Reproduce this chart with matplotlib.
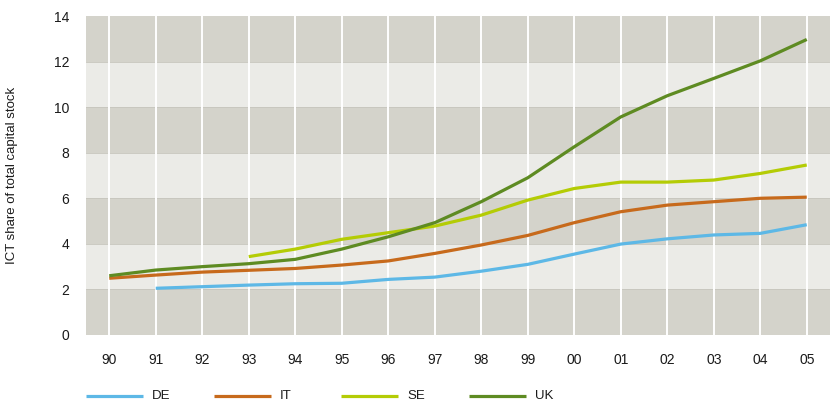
import matplotlib
matplotlib.use("Agg")
import matplotlib.pyplot as plt
from matplotlib.lines import Line2D

plt.rcParams['font.family'] = ['Liberation Sans', 'DejaVu Sans']

years = ["90", "91", "92", "93", "94", "95", "96", "97", "98", "99",
         "00", "01", "02", "03", "04", "05"]
de = [None, 2.05, 2.12, 2.19, 2.25, 2.27, 2.44, 2.54, 2.8, 3.1,
      3.55, 3.99, 4.22, 4.39, 4.46, 4.84]
it = [2.49, 2.63, 2.76, 2.84, 2.92, 3.07, 3.25, 3.58, 3.95, 4.37,
      4.93, 5.41, 5.7, 5.85, 6.0, 6.05]
se = [None, None, None, 3.44, 3.77, 4.2, 4.49, 4.78, 5.26, 5.92,
      6.43, 6.71, 6.71, 6.8, 7.09, 7.46]
uk = [2.6, 2.85, 3.0, 3.13, 3.32, 3.77, 4.31, 4.93, 5.85, 6.9,
      8.26, 9.57, 10.5, 11.26, 12.03, 12.97]
series_names = ["DE", "IT", "SE", "UK"]
series_vals = [de, it, se, uk]
colors = ["#5db8e6", "#c76a1c", "#b4cc05", "#5e8b22"]
yticks = [0, 2, 4, 6, 8, 10, 12, 14]
ylabel = "ICT share of total capital stock"

fig = plt.figure(figsize=(8.30, 4.03), dpi=100)
W, H = 830, 403
left, right, top, bottom = 86, 830, 16, 335
ax = fig.add_axes([left / W, 1 - bottom / H, (right - left) / W, (bottom - top) / H])

x = list(range(len(years)))
ax.set_xlim(-0.5, len(years) - 0.5)
ax.set_ylim(0, 14)

dark = "#d4d3cb"
light = "#ebebe7"
for i in range(7):
    ax.axhspan(2 * i, 2 * i + 2, color=dark if i % 2 == 0 else light, lw=0, zorder=0)
for yv in yticks[1:-1]:
    ax.axhline(yv, color="#c6c5bd", lw=0.6, zorder=0.5)
for xv in x:
    ax.axvline(xv, color="white", lw=1.4, zorder=1)

for name, vals, c in zip(series_names, series_vals, colors):
    xs = [xi for xi, v in zip(x, vals) if v is not None]
    ys = [v for v in vals if v is not None]
    ax.plot(xs, ys, color=c, lw=2.3, solid_capstyle="butt", zorder=3, label=name)

for s in ax.spines.values():
    s.set_visible(False)
ax.set_xticks(x)
ax.set_xticklabels(years)
ax.set_yticks(yticks)
ax.set_yticklabels([str(v) for v in yticks])
ax.tick_params(length=0, labelsize=10, colors="#1a1a1a")
ax.tick_params(axis="x", pad=13)
ax.tick_params(axis="y", pad=12)

fig.text(12 / W, 1 - 175 / H, ylabel, rotation=90, ha="center", va="center",
         fontsize=9.5, color="#1a1a1a")

# legend
starts = [86, 214, 341, 469]
ly = 1 - 396 / H
for sx, name, c in zip(starts, series_names, colors):
    fig.add_artist(Line2D([sx / W, (sx + 57) / W], [ly, ly], color=c, lw=2.3,
                          solid_capstyle="butt", transform=fig.transFigure))
    fig.text((sx + 66) / W, ly, name, ha="left", va="center", fontsize=9.5, color="#1a1a1a")

fig.savefig("out.png", dpi=100)
